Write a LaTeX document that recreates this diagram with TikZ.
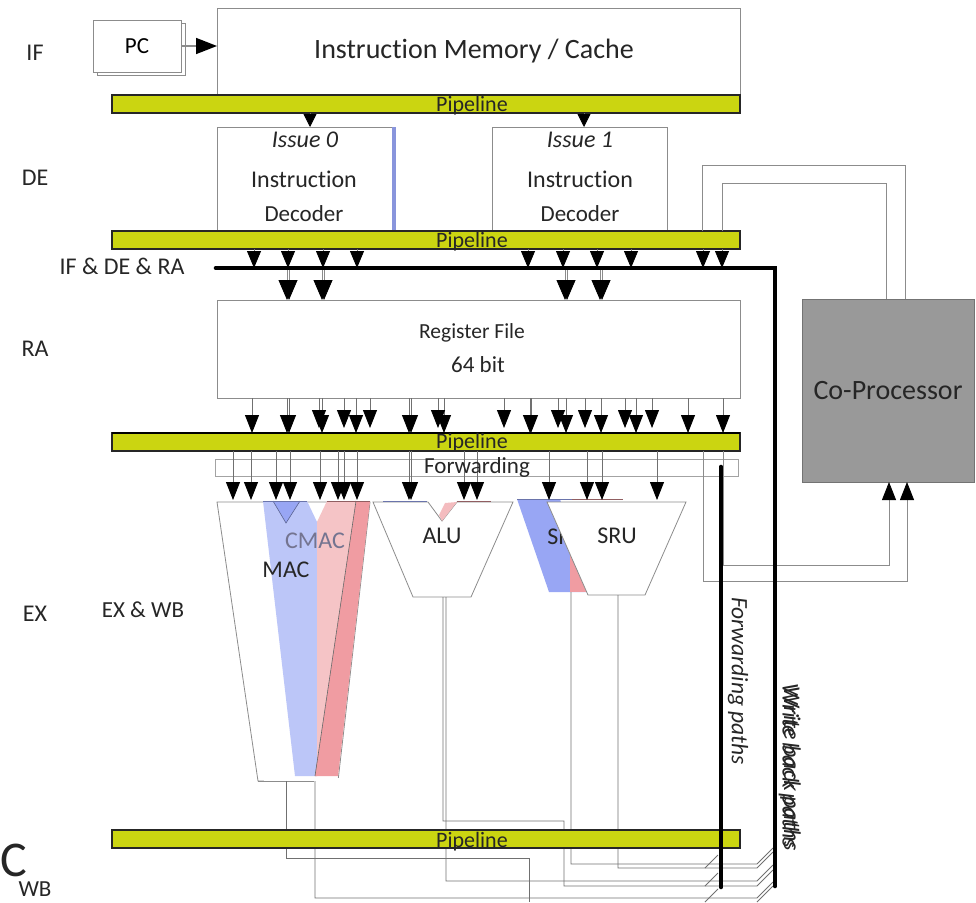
\documentclass[tikz,border=0pt]{standalone}
\usepackage{fontspec}
\setmainfont[Ligatures=NoCommon]{Carlito}
\usetikzlibrary{arrows.meta,calc}
\definecolor{pipecol}{HTML}{CBD511}
\definecolor{edge}{HTML}{8C8C8C}
\definecolor{wire}{HTML}{707070}
\definecolor{bluelt}{HTML}{BCC6F8}
\definecolor{bluemd}{HTML}{98A6F4}
\definecolor{pinklt}{HTML}{F5C4C6}
\definecolor{pinkmd}{HTML}{F09CA2}
\tikzset{
  x=1pt,y=-1pt,
  every node/.style={inner sep=0pt,outer sep=0pt},
  box/.style={draw=edge,fill=white,line width=0.9pt,anchor=north west},
  pipebar/.style={draw=black!85,fill=pipecol,line width=1.2pt,anchor=north west,minimum width=628pt,minimum height=18pt},
  pipetxt/.style={font=\fontsize{22}{22}\selectfont,text=black!85},
  lbl/.style={font=\fontsize{24}{24}\selectfont,text=black!85},
  wireline/.style={draw=wire,line width=0.8pt},
  arrS/.style={wireline,-{Triangle[length=17pt,width=14pt,black]}},
  arrM/.style={wireline,-{Triangle[length=18pt,width=14pt,black]}},
  arrL/.style={wireline,-{Triangle[length=20pt,width=17pt,black]}},
  bus/.style={draw=black,line width=4.6pt,line cap=round},
  poly/.style={draw=edge,line width=0.8pt,fill=white},
}
\begin{document}
\begin{tikzpicture}
\useasboundingbox (0,0) rectangle (976,902);
% stage labels
\node[lbl] (lif) at (35,53) {IF};
\node[lbl] (lde) at (35,178) {DE};
\node[lbl] (lra) at (35,349) {RA};
\node[lbl] (lex) at (35,614) {EX};
\node[lbl] (lidr) at (122,266) {IF \& DE \& RA};
\node[lbl,font=\fontsize{23}{23}\selectfont] (lexwb) at (143,610) {EX \& WB};
\node[font=\fontsize{50}{50}\selectfont,text=black!85] (lc) at (14,860) {C};
\node[lbl,font=\fontsize{23}{23}\selectfont] (lwb) at (35,889) {WB};
% PC and memory
\node[box,minimum width=88pt,minimum height=52pt] (pcb) at (97,23) {};
\node[box,minimum width=88pt,minimum height=52pt,font=\fontsize{23}{23}\selectfont] (pc) at (93,20) {PC};
\node[box,minimum width=523pt,minimum height=87pt] (im) at (217,8) {};
\node[font=\fontsize{28}{28}\selectfont,text=black!85] (imt) at (474,51) {Instruction Memory / Cache};
\draw[draw=edge,line width=1.6pt,-{Triangle[length=21pt,width=16pt,black]}] (pc.east) -- (im.west |- pc.east);
% decoders
\node[box,minimum width=175pt,minimum height=104pt] (d0) at (217,127) {};
\fill[bluemd!90!black] (d0.north east) rectangle ($(d0.south east)+(3.5,0)$);
\node[box,minimum width=175pt,minimum height=104pt] (d1) at (492,127) {};
\node[lbl,font=\fontsize{24}{24}\selectfont\itshape] (i0) at (305,140) {Issue 0};
\node[lbl] (t0a) at (304,179) {Instruction};
\node[lbl,font=\fontsize{23}{23}\selectfont] (t0b) at (304,214) {Decoder};
\node[lbl,font=\fontsize{24}{24}\selectfont\itshape] (i1) at (580,140) {Issue 1};
\node[lbl] (t1a) at (580,179) {Instruction};
\node[lbl,font=\fontsize{23}{23}\selectfont] (t1b) at (580,214) {Decoder};
% coordinates for buses
\coordinate (busl) at (216,268);
\coordinate (busc) at (775,268);
\coordinate (buse) at (775,886);
% register file, forwarding
\node[box,minimum width=523pt,minimum height=98pt] (rf) at (217,300) {};
\node[lbl,font=\fontsize{21.5}{22}\selectfont] (rf1) at (472,333) {Register File};
\node[lbl,font=\fontsize{23}{23}\selectfont] (rf2) at (478,365) {64 bit};
\node[box,draw=edge!80,minimum width=523pt,minimum height=17pt] (fw) at (215,459) {};
% co-processor
\node[box,draw=black!55,fill=black!40,minimum width=172pt,minimum height=183pt,font=\fontsize{28}{28}\selectfont,text=black!85] (cp) at (802,299) {Co-Processor};
% pipelines
\node[pipebar] (p1) at (112,95) {};
\node[pipebar] (p2) at (112,231) {};
\node[pipebar] (p3) at (112,433) {};
\node[pipebar] (p4) at (112,830) {};
\draw[draw=black,line width=2.4pt] (p3.north west) -- (p3.north east);
% coprocessor links
\coordinate (a1) at (702,165);
\coordinate (a2) at (722,183);
\draw[wireline,draw=edge] (a1 |- p2.north) -- (a1) -- (a1 -| 905,0) -- (905,0 |- cp.north);
\draw[wireline,draw=edge] (a2 |- p2.north) -- (a2) -- (a2 -| 886,0) -- (886,0 |- cp.north);
\coordinate (b1) at (703,581);
\coordinate (b2) at (723,565);
\draw[arrM,draw=edge] (b1 |- p3.south) -- (b1) -- (b1 -| 907,0) -- (907,0 |- cp.south);
\draw[arrM,draw=edge] (b2 |- p3.south) -- (b2) -- (b2 -| 889,0) -- (889,0 |- cp.south);
% pipe 1 to decoders
\foreach \x in {310,584} {\coordinate (t) at (\x,0); \draw[wireline,-{Triangle[length=13pt,width=13pt,black]}] (t |- p1.south) -- (t |- d0.north);}
% pipe 2 to bus
\foreach \x in {254,288,323,357,528,563,597,631,703,722} {\coordinate (t) at (\x,0); \draw[arrS] (t |- p2.south) -- (t |- busl);}
% bus to register file
\foreach \x in {288,323,566,601} {\coordinate (t) at (\x,0); \draw[arrL,draw=edge] ($(t |- busl)+(-1,0)$) -- ($(t |- rf.north)+(-1,0)$); \draw[arrL,draw=edge] ($(t |- busl)+(1,0)$) -- ($(t |- rf.north)+(1,0)$);}
% register file to pipe 3
\foreach \x in {252,287,289,322,356,409,411,444,530,531,566,601,636,688,723} {\coordinate (t) at (\x,0); \draw[arrM] (t |- rf.south) -- (t |- p3.north);}
\foreach \x in {319,344,370,438,504,558,585,625,652} {\coordinate (t) at (\x,0); \draw[arrM,shorten >=5pt] (t |- rf.south) -- (t |- p3.north);}
% functional units
\coordinate (ext) at (0,500);
% MAC
\draw[poly] (217,502) -- (370,502) -- (338,781) -- (258,781) -- cycle;
\fill[bluelt] (263,501) -- (307,501) -- (317,522) -- (317,776) -- (295,776) -- cycle;
\fill[bluemd] (273,501) -- (300,501) -- (286,523) -- cycle;
\draw[draw=bluemd!60!black,line width=0.6pt] (273,501) -- (286,523) -- (300,501);
\fill[pinklt] (327,501) -- (356,501) -- (315,776) -- (317,776) -- (317,522) -- cycle;
\fill[pinkmd] (356,501) -- (370,501) -- (338,776) -- (315,776) -- cycle;
\draw[draw=black!60,line width=0.6pt] (356,501) -- (315,776);
\draw[draw=bluemd!70!black,line width=1pt] (263,501) -- (307,501);
\draw[draw=pinkmd!60!black,line width=1pt] (327,501) -- (370,501);
\draw[draw=white,line width=1.2pt] (264,781) -- (338,781);
\draw[draw=edge,line width=0.8pt] (258,781) -- (314,781);
\fill[white] (316,777.5) rectangle (340,783);
\node[lbl,font=\fontsize{24}{24}\selectfont,text=black!55!blue!35!white!70!black] (cmac) at (315,541) {CMAC};
\node[lbl,font=\fontsize{24}{24}\selectfont] (mac) at (286,570) {MAC};
% ALU
\draw[poly] (373,502) -- (428,502) -- (442,521) -- (457,502) -- (513,502) -- (471,597) -- (413,597) -- cycle;
\fill[pinklt!80!pinkmd] (439,515) -- (445,503) -- (457,502) -- (442,521) -- cycle;
\draw[draw=bluemd!70!black,line width=1pt] (383,501.5) -- (427,501.5);
\draw[draw=pinkmd!60!black,line width=1pt] (457,501.5) -- (491,501.5);
\node[lbl,font=\fontsize{24}{24}\selectfont] (alu) at (442,536) {ALU};
% shifter
\fill[bluemd] (517,499) -- (560,499) -- (587,592) -- (549,592) -- cycle;
\fill[pinkmd] (570,550) -- (590,550) -- (590,592) -- (570,592) -- cycle;
\draw[draw=pinkmd!60!black,line width=1pt] (572,499.5) -- (623,499.5);
\draw[draw=bluemd!70!black,line width=1pt] (517,499.5) -- (572,499.5);
\node[lbl,font=\fontsize{24}{24}\selectfont] (srb) at (567,537) {SRU};
\draw[poly] (547,502) -- (686,502) -- (645,595) -- (588,595) -- cycle;
\node[lbl,font=\fontsize{24}{24}\selectfont] (sru) at (617,536) {SRU};
% arrows into functional units
\foreach \x in {233,251,276,290,320,338,344,357,409,411,464,477,549,587,602,657} {\coordinate (t) at (\x,0); \draw[arrM] (t |- p3.south) -- (t |- ext);}
% outputs to write back
\foreach \sx/\sy/\yy in {571/592/864,618/595/868} {
  \draw[wireline] (\sx,\sy) -- (\sx,\yy) -- (757,\yy) -- ++(16,-16);
}
\draw[wireline] (705,868) -- ++(13,-13);
\draw[wireline] (443,597) -- (443,821) -- (564,821) -- (564,886) -- (757,886) -- ++(16,-16);
\draw[wireline] (705,886) -- ++(13,-13);
\draw[wireline] (446,597) -- (446,881) -- (757,881) -- ++(16,-16);
\draw[wireline] (286,781) -- (286,858) -- (529,858) -- (529,902);
\draw[wireline] (315,781) -- (315,898) -- (757,898) -- ++(16,-16);
\draw[wireline] (705,902) -- ++(13,-13);
\draw[wireline] (757,902) -- ++(16,-16);
% redraw last pipeline over vertical lines
\node[pipebar] (p4b) at (112,830) {};
% pipeline labels
\node[pipetxt] (pt1) at (472,106) {Pipeline};
\node[pipetxt] (pt2) at (472,242) {Pipeline};
\node[pipetxt] (pt3) at (472,443) {Pipeline};
\node[pipetxt] (pt4) at (472,842) {Pipeline};
\node[lbl,font=\fontsize{23}{23}\selectfont] (fwt) at (477,467) {Forwarding};
% buses
\draw[bus] (busl) -- (busc) -- (buse);
\draw[bus] (721,467) -- (721,887);
% path labels
\node[lbl,rotate=-90,font=\fontsize{23.5}{24}\selectfont\itshape] (fp) at (738,681) {Forwarding paths};
\node[lbl,rotate=-90,font=\fontsize{24}{24}\selectfont\itshape] (wp1) at (789,766) {Write back paths};
\node[lbl,rotate=-90,font=\fontsize{24}{24}\selectfont\itshape] (wp2) at (790.5,768.5) {Write back paths};
\end{tikzpicture}
\end{document}
